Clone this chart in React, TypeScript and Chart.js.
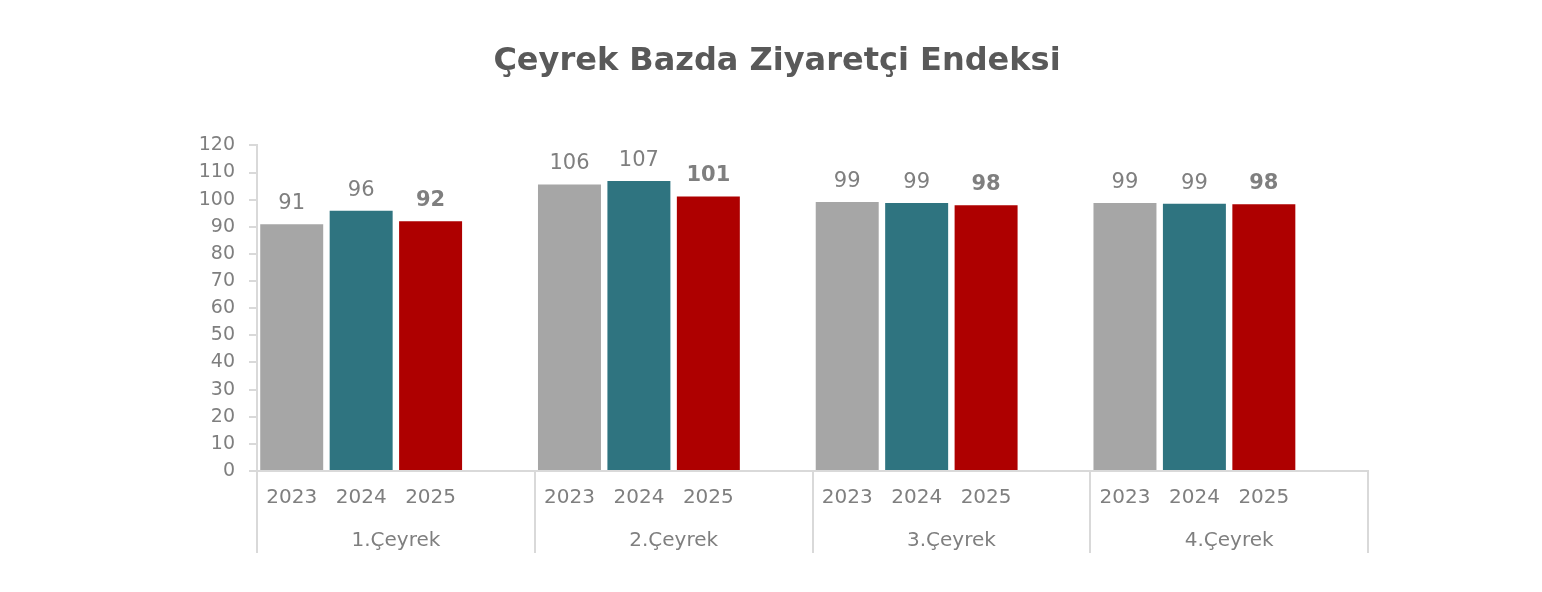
import { Chart, registerables } from 'chart.js';
import type { Plugin } from 'chart.js';
import { useEffect, useRef } from 'react';

Chart.register(...registerables);

const quarters = ['1.Çeyrek', '2.Çeyrek', '3.Çeyrek', '4.Çeyrek'];
const years = ['2023', '2024', '2025'];
const values2023 = [90.9, 105.6, 99.1, 98.8];
const values2024 = [95.9, 106.9, 98.8, 98.5];
const values2025 = [92.0, 101.2, 97.9, 98.3];
const yMax = 120;
const yStep = 10;

const yearColors = ['#A6A6A6', '#2F7480', '#AE0000'];
const textGray = '#7F7F7F';
const lineGray = '#D9D9D9';
const font = "'DejaVu Sans', Verdana, sans-serif";

// each quarter gets its three years plus an empty slot as the gap
const series = [values2023, values2024, values2025];
const slotLabels: string[] = [];
const slotValues: (number | null)[] = [];
const slotColors: string[] = [];
quarters.forEach((_, q) => {
  years.forEach((year, y) => {
    slotLabels.push(year);
    slotValues.push(series[y][q]);
    slotColors.push(yearColors[y]);
  });
  slotLabels.push('');
  slotValues.push(null);
  slotColors.push('transparent');
});

const valueLabels: Plugin<'bar'> = {
  id: 'valueLabels',
  afterDatasetsDraw(chart) {
    const { ctx } = chart;
    const meta = chart.getDatasetMeta(0);
    ctx.save();
    ctx.fillStyle = textGray;
    ctx.textAlign = 'center';
    ctx.textBaseline = 'alphabetic';
    meta.data.forEach((bar, i) => {
      const v = slotValues[i];
      if (v === null) return;
      const bold = i % 4 === 2;
      ctx.font = `${bold ? 'bold ' : ''}21px ${font}`;
      ctx.fillText(String(Math.round(v)), bar.x, bar.y - 15);
    });
    ctx.restore();
  },
};

export default function App() {
  const canvasRef = useRef<HTMLCanvasElement>(null);

  useEffect(() => {
    const canvas = canvasRef.current;
    if (!canvas) return undefined;

    const chart = new Chart(canvas, {
      type: 'bar',
      data: {
        labels: slotLabels,
        datasets: [
          {
            data: slotValues,
            backgroundColor: slotColors,
            barPercentage: 0.907,
            categoryPercentage: 1,
          },
        ],
      },
      options: {
        animation: false,
        responsive: true,
        maintainAspectRatio: false,
        layout: { padding: { left: 186, right: 174, top: 0, bottom: 31 } },
        plugins: {
          legend: { display: false },
          tooltip: { enabled: false },
          title: {
            display: true,
            text: 'Çeyrek Bazda Ziyaretçi Endeksi',
            color: '#595959',
            font: { family: font, size: 32, weight: 'bold' },
            padding: { top: 42, bottom: 65 },
          },
        },
        scales: {
          x: {
            offset: true,
            weight: 0,
            border: { display: true, color: lineGray, width: 2 },
            grid: {
              display: true,
              offset: true,
              drawOnChartArea: false,
              drawTicks: true,
              tickLength: 82,
              lineWidth: 2,
              color: (c: any) =>
                c.index === undefined || c.index % 4 === 0 ? lineGray : 'transparent',
            },
            ticks: {
              autoSkip: false,
              maxRotation: 0,
              padding: -67,
              color: textGray,
              font: { family: font, size: 20 },
            },
            afterFit: (scale: any) => {
              scale.height = 40;
            },
          },
          x2: {
            type: 'category',
            position: 'bottom',
            labels: quarters,
            offset: true,
            weight: 1,
            border: { display: false },
            grid: { display: false, drawTicks: false },
            ticks: {
              padding: 18,
              color: textGray,
              font: { family: font, size: 20 },
            },
            afterFit: (scale: any) => {
              scale.height = 50;
            },
          },
          y: {
            min: 0,
            max: yMax,
            border: { display: true, color: lineGray, width: 2 },
            grid: {
              drawOnChartArea: false,
              drawTicks: true,
              tickLength: 8,
              color: lineGray,
              lineWidth: 2,
            },
            ticks: {
              stepSize: yStep,
              padding: 14,
              color: textGray,
              font: { family: font, size: 19 },
            },
            afterFit: (scale: any) => {
              scale.width = 71;
            },
          },
        },
      },
      plugins: [valueLabels],
    });

    return () => {
      chart.destroy();
    };
  }, []);

  return (
    <div
      style={{
        position: 'fixed',
        left: 0,
        top: 0,
        width: '100vw',
        height: '100vh',
        background: '#fff',
      }}
    >
      <canvas ref={canvasRef} />
    </div>
  );
}
